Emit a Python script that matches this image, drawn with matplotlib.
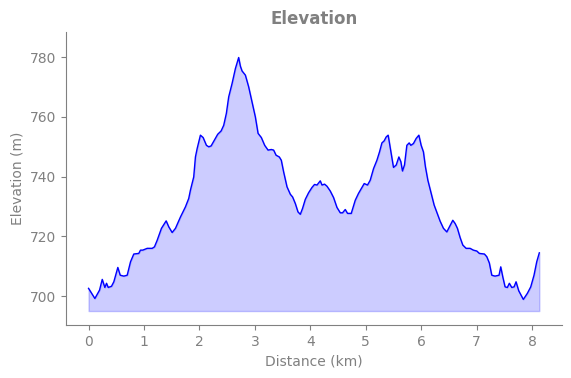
import matplotlib
matplotlib.use("Agg")
import matplotlib.pyplot as plt

distance_km = [0.000, 0.114, 0.198, 0.247, 0.294, 0.324, 0.355, 0.414, 0.456, 0.528,
               0.571, 0.636, 0.697, 0.757, 0.816, 0.906, 0.937, 0.978, 1.058, 1.148,
               1.189, 1.238, 1.315, 1.400, 1.447, 1.508, 1.568, 1.658, 1.748, 1.807,
               1.838, 1.868, 1.897, 1.928, 1.959, 1.987, 2.018, 2.067, 2.126, 2.168,
               2.211, 2.270, 2.330, 2.391, 2.438, 2.486, 2.528, 2.589, 2.649, 2.708,
               2.739, 2.769, 2.829, 2.888, 2.950, 3.009, 3.058, 3.117, 3.177, 3.238,
               3.297, 3.339, 3.382, 3.441, 3.477, 3.519, 3.580, 3.640, 3.681, 3.730,
               3.778, 3.820, 3.861, 3.910, 3.969, 4.031, 4.077, 4.121, 4.180, 4.211,
               4.258, 4.301, 4.360, 4.420, 4.481, 4.541, 4.582, 4.631, 4.672, 4.739,
               4.811, 4.870, 4.932, 4.973, 5.032, 5.081, 5.141, 5.202, 5.249, 5.292,
               5.333, 5.369, 5.405, 5.454, 5.501, 5.550, 5.598, 5.634, 5.663, 5.699,
               5.742, 5.784, 5.814, 5.861, 5.910, 5.959, 6.000, 6.041, 6.077, 6.121,
               6.175, 6.234, 6.288, 6.342, 6.402, 6.463, 6.510, 6.571, 6.613, 6.654,
               6.703, 6.751, 6.811, 6.883, 6.942, 7.004, 7.050, 7.141, 7.184, 7.230,
               7.274, 7.333, 7.405, 7.436, 7.472, 7.514, 7.555, 7.591, 7.634, 7.676,
               7.712, 7.760, 7.843, 7.915, 7.977, 8.036, 8.085, 8.132]

elevation_m = [702.6, 699.2, 702.0, 705.6, 702.9, 704.3, 702.9, 703.3, 704.8, 709.6,
               707.0, 706.7, 707.0, 711.5, 714.1, 714.3, 715.4, 715.4, 716.0, 716.0,
               716.5, 718.7, 722.7, 725.2, 723.2, 721.3, 722.7, 726.5, 729.9, 732.7,
               735.5, 737.7, 739.9, 746.6, 749.4, 751.6, 753.9, 753.1, 750.5, 750.0,
               750.3, 752.2, 754.2, 755.3, 757.2, 761.2, 766.7, 771.2, 776.2, 779.9,
               777.0, 775.4, 774.0, 770.1, 765.0, 760.0, 754.5, 753.1, 750.5, 748.9,
               749.1, 748.9, 747.2, 746.6, 745.5, 741.6, 736.6, 734.1, 733.2, 731.0,
               728.2, 727.4, 729.4, 732.4, 734.6, 736.4, 737.4, 737.2, 738.6, 737.2,
               737.5, 736.8, 735.2, 733.0, 729.7, 727.9, 727.9, 729.0, 727.7, 727.7,
               732.1, 734.4, 736.4, 737.7, 737.2, 738.8, 742.7, 745.5, 748.3, 751.3,
               752.0, 753.3, 753.9, 748.3, 743.1, 743.9, 746.6, 745.0, 741.9, 743.9,
               750.5, 751.3, 750.5, 751.1, 752.8, 753.9, 750.5, 748.3, 743.3, 738.8,
               734.9, 730.5, 727.8, 725.1, 722.7, 721.5, 723.2, 725.4, 724.3, 722.7,
               719.6, 717.1, 716.0, 716.0, 715.4, 715.1, 714.3, 714.1, 713.2, 711.1,
               707.0, 706.7, 707.0, 709.8, 706.5, 703.1, 702.9, 704.3, 702.9, 703.1,
               704.8, 701.8, 698.9, 700.9, 703.1, 707.0, 711.5, 714.5]

fill_base = 695
x_ticks = [0, 1, 2, 3, 4, 5, 6, 7, 8]
y_ticks = [700, 720, 740, 760, 780]

gray = "#808080"

fig = plt.figure(figsize=(5.71, 3.78), dpi=100)
ax = fig.add_axes([0.1156, 0.140, 0.8684, 0.775])

ax.fill_between(distance_km, elevation_m, fill_base, color="blue", alpha=0.2)
ax.plot(distance_km, elevation_m, color="blue", linewidth=1.0)

ax.set_ylim(690.3, 788.4)
ax.set_xticks(x_ticks)
ax.set_yticks(y_ticks)

ax.set_title("Elevation", color=gray, fontsize=12, fontweight="bold")
ax.set_xlabel("Distance (km)", color=gray)
ax.set_ylabel("Elevation (m)", color=gray)

for side in ["top", "right"]:
    ax.spines[side].set_visible(False)
for side in ["left", "bottom"]:
    ax.spines[side].set_color(gray)
ax.tick_params(colors=gray, labelcolor=gray)

fig.savefig("out.png", dpi=100)
